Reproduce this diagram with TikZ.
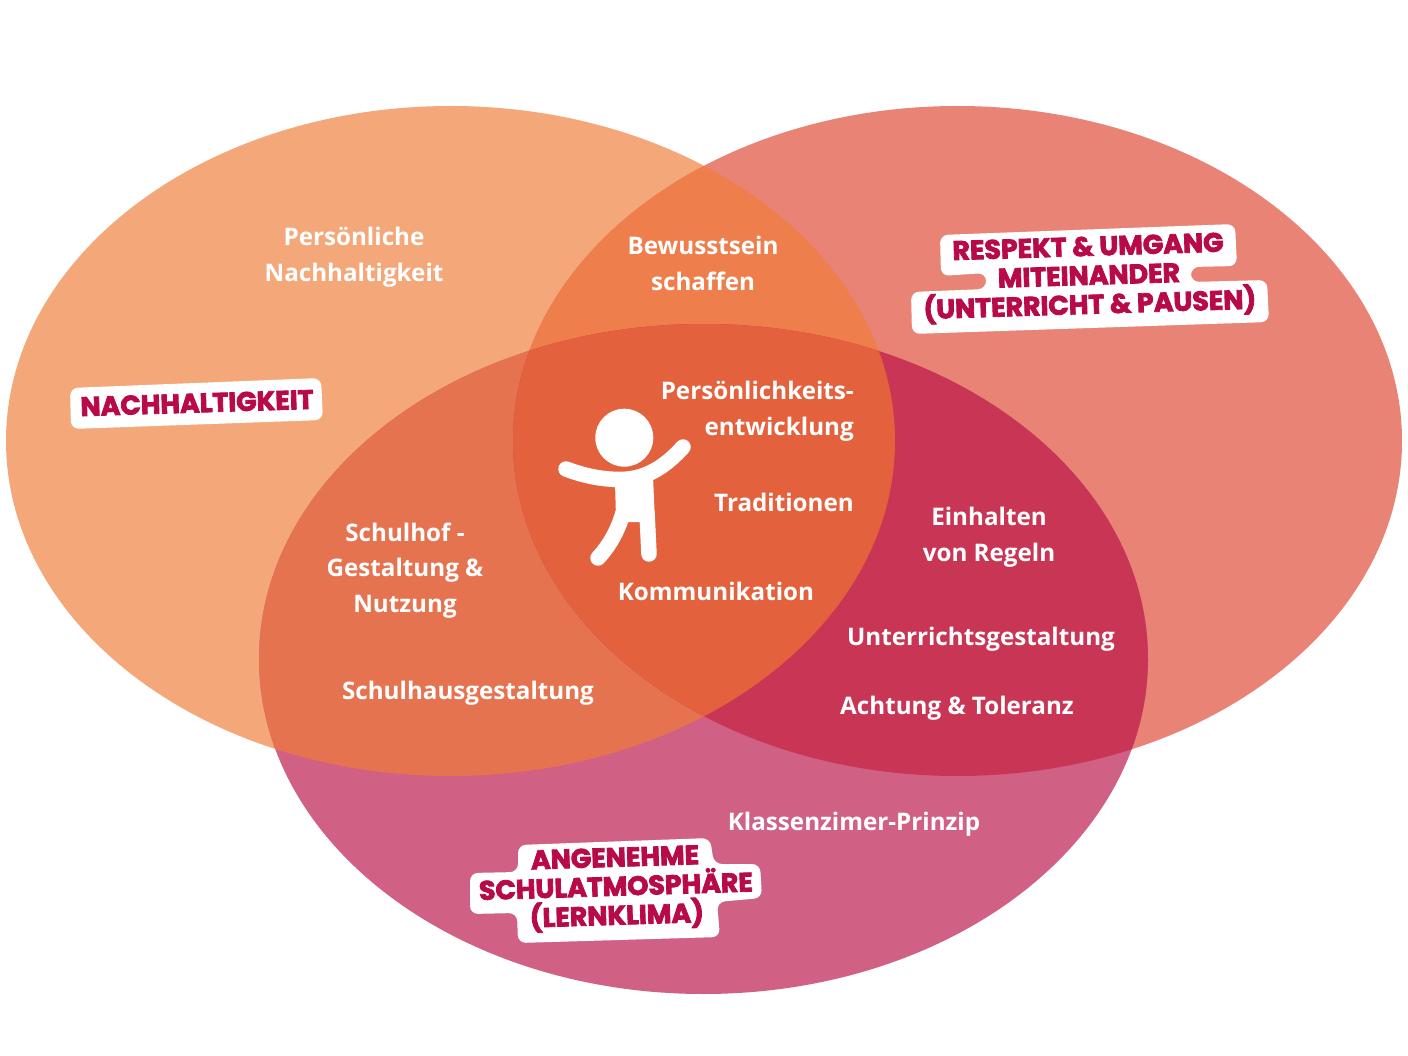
\documentclass[tikz,border=0pt]{standalone}
\usepackage{fontspec}
\setmainfont{Open Sans}
\newfontfamily\stickerfont{Poppins}[UprightFont=* Bold,FakeBold=3]
\definecolor{cLeft}{HTML}{F4A87A}
\definecolor{cRight}{HTML}{E98375}
\definecolor{cBottom}{HTML}{D16085}
\definecolor{cLR}{HTML}{EE7E4B}
\definecolor{cLB}{HTML}{E6734F}
\definecolor{cRB}{HTML}{C93554}
\definecolor{cAll}{HTML}{E3623D}
\definecolor{cInk}{HTML}{B80A48}
\tikzset{
  lbl/.style={text=white,align=center,inner sep=0pt,font=\bfseries\fontsize{24.2}{35.5}\selectfont},
  stk/.style={text=cInk,align=center,inner sep=0pt,font=\stickerfont\fontsize{26.8}{29}\selectfont},
  sticker/.style={fill=white,rounded corners=8pt},
  limb/.style={draw=white,line width=15.5pt,line cap=round}
}
\def\ellL{(450.5,441) ellipse [x radius=444.5,y radius=335]}
\def\ellR{(957.5,441) ellipse [x radius=444.5,y radius=335]}
\def\ellB{(703.5,659) ellipse [x radius=444.5,y radius=335]}
\begin{document}
\begin{tikzpicture}[x=1pt,y=-1pt]
\useasboundingbox (0,0) rectangle (1408,1056);
\fill[white] (0,0) rectangle (1408,1056);
\fill[cLeft] \ellL;
\fill[cRight] \ellR;
\fill[cBottom] \ellB;
\begin{scope}\clip \ellL; \fill[cLR] \ellR; \end{scope}
\begin{scope}\clip \ellL; \fill[cLB] \ellB; \end{scope}
\begin{scope}\clip \ellR; \fill[cRB] \ellB; \end{scope}
\begin{scope}\clip \ellL; \clip \ellR; \fill[cAll] \ellB; \end{scope}
% stickers
\fill[sticker] (70,388) -- (321,378) -- (323,420) -- (71,429) -- cycle;
\fill[sticker] (940,235) -- (1235,224) -- (1237,266) -- (1191,267) -- (1191,282) -- (1267,280) -- (1269,322) -- (912,334) -- (911,292) -- (986,289) -- (986,273) -- (941,276) -- cycle;
\fill[sticker] (518,845) -- (710,838) -- (714,864) -- (760,864) -- (762,898) -- (717,902) -- (720,937) -- (518,943) -- (517,913) -- (470,914) -- (470,873) -- (518,872) -- cycle;
% figure
\fill[white] (624.3,437.7) circle [radius=29];
\draw[limb] (566,469) .. controls (585,476) and (600,479) .. (618,479.5) .. controls (645,480) and (665,467) .. (683,447);
\fill[white] (615,482) -- (653,476) -- (655,522) -- (628,522) -- (616,518) -- cycle;
\draw[limb] (623,513) .. controls (618,530) and (610,545) .. (598,558);
\draw[limb] (647,513) -- (649,554);
% labels
\node[lbl] (pn) at (354,257) {Persönliche\\Nachhaltigkeit};
\node[lbl] (bs) at (703,263.5) {Bewusstsein\\schaffen};
\node[lbl,align=right,anchor=east] (pe) at (854,411) {Persönlichkeits-\\entwicklung};
\node[lbl,anchor=east] (tr) at (854,502) {Traditionen};
\node[lbl] (ko) at (716,591) {Kommunikation};
\node[lbl] (er) at (989,537) {Einhalten\\von Regeln};
\node[lbl] (ug) at (981,639) {Unterrichtsgestaltung};
\node[lbl] (at) at (957,708) {Achtung \& Toleranz};
\node[lbl] (sg) at (405,570.5) {Schulhof -\\Gestaltung \&\\Nutzung};
\node[lbl] (sh) at (468,693) {Schulhausgestaltung};
\node[lbl] (kp) at (854,824) {Klassenzimer-Prinzip};
\node[stk,rotate=1.8] (s1) at (197,403) {NACHHALTIGKEIT};
\node[stk,rotate=1.8] (s2) at (1089,278) {RESPEKT \& UMGANG\\MITEINANDER\\(UNTERRICHT \& PAUSEN)};
\node[stk,rotate=1.8] (s3) at (616,889) {ANGENEHME\\SCHULATMOSPHÄRE\\(LERNKLIMA)};
\end{tikzpicture}
\end{document}
